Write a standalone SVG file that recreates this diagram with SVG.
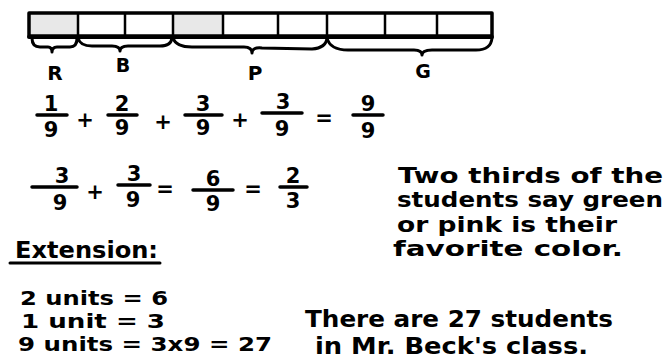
<svg xmlns="http://www.w3.org/2000/svg" width="664" height="362" viewBox="0 0 664 362">
<style>
.ink{fill:none;stroke:#000;stroke-linecap:round;stroke-linejoin:round}
.t{font-family:"DejaVu Sans","Liberation Sans",sans-serif;font-weight:bold;fill:#000}
.d{font-family:"DejaVu Sans","Liberation Sans",sans-serif;font-weight:bold;fill:#000;font-size:21px;text-anchor:middle}
.op{font-family:"DejaVu Sans","Liberation Sans",sans-serif;font-weight:bold;fill:#000;font-size:21px;text-anchor:middle}
.shade{fill:#e8e8e8;stroke:none}
</style>
<rect width="664" height="362" fill="#fff"/>
<g id="bar">
  <rect class="shade" x="30" y="14" width="48" height="21"/>
  <rect class="shade" x="173" y="14" width="50" height="21"/>
  <rect class="ink" x="29" y="13" width="463" height="23" stroke-width="3.5"/>
  <line class="ink" x1="29" y1="37" x2="492" y2="37" stroke-width="4"/>
  <g class="ink" stroke-width="2.5">
    <line x1="78" y1="14" x2="78" y2="36"/>
    <line x1="125" y1="14" x2="125" y2="36"/>
    <line x1="173" y1="14" x2="173" y2="36"/>
    <line x1="223" y1="14" x2="223" y2="36"/>
    <line x1="278" y1="14" x2="278" y2="36"/>
    <line x1="327" y1="14" x2="327" y2="36"/>
    <line x1="385" y1="14" x2="385" y2="36"/>
    <line x1="437" y1="14" x2="437" y2="36"/>
  </g>
</g>
<g id="braces" class="ink" stroke-width="3">
  <path d="M32,38 Q32,47 40,47 L48,47 Q52,47 52,52 Q52,47 57,47 L70,47 Q77,47 77,38"/>
  <path d="M78,38 Q80,46 92,46 L112,46 Q120,46 120,51 Q120,46 128,46 L160,46 Q171,46 172,38"/>
  <path d="M173,38 Q176,47 192,47 L244,47 Q252,47 252,53 Q252,47 262,48 L312,49 Q326,48 327,38"/>
  <path d="M327,38 Q330,50 348,50 L414,50 Q422,50 422,55 Q422,50 432,50 L476,50 Q491,50 492,38"/>
</g>
<g id="labels">
  <text class="t" x="55" y="80" font-size="20" text-anchor="middle">R</text>
  <text class="t" x="123" y="72" font-size="19" text-anchor="middle">B</text>
  <text class="t" x="255" y="80" font-size="20" text-anchor="middle">P</text>
  <text class="t" x="423" y="78" font-size="19" text-anchor="middle">G</text>
</g>
<g id="row1">
  <g class="ink" stroke-width="3.5">
    <line x1="37" y1="115" x2="67" y2="115"/>
    <line x1="108" y1="115" x2="137" y2="115"/>
    <line x1="185" y1="115" x2="222" y2="115"/>
    <line x1="262" y1="113" x2="302" y2="113"/>
    <line x1="353" y1="115" x2="383" y2="115"/>
  </g>
  <text class="d" x="51" y="111">1</text><text class="d" x="51" y="137">9</text>
  <text class="op" x="85" y="127">+</text>
  <text class="d" x="122" y="111">2</text><text class="d" x="122" y="135">9</text>
  <text class="op" x="163" y="129">+</text>
  <text class="d" x="203" y="111">3</text><text class="d" x="203" y="135">9</text>
  <text class="op" x="240" y="127">+</text>
  <text class="d" x="283" y="109">3</text><text class="d" x="282" y="136">9</text>
  <text class="op" x="324" y="125">=</text>
  <text class="d" x="368" y="111">9</text><text class="d" x="368" y="138">9</text>
</g>
<g id="row2">
  <g class="ink" stroke-width="3.5">
    <line x1="32" y1="187" x2="77" y2="187"/>
    <line x1="118" y1="185" x2="150" y2="185"/>
    <line x1="193" y1="190" x2="233" y2="190"/>
    <line x1="280" y1="187" x2="307" y2="187"/>
  </g>
  <text class="d" x="62" y="183">3</text><text class="d" x="60" y="210">9</text>
  <text class="op" x="95" y="199">+</text>
  <text class="d" x="134" y="181">3</text><text class="d" x="133" y="207">9</text>
  <text class="op" x="165" y="196">=</text>
  <text class="d" x="213" y="186">6</text><text class="d" x="213" y="211">9</text>
  <text class="op" x="253" y="196">=</text>
  <text class="d" x="293" y="183">2</text><text class="d" x="293" y="208">3</text>
</g>
<g id="conclusion" class="t" font-size="20.5">
  <text x="398" y="183" textLength="265" lengthAdjust="spacingAndGlyphs">Two thirds of the</text>
  <text x="397" y="207" textLength="266" lengthAdjust="spacingAndGlyphs">students say green</text>
  <text x="397" y="232" textLength="220" lengthAdjust="spacingAndGlyphs">or pink is their</text>
  <text x="393" y="256" textLength="230" lengthAdjust="spacingAndGlyphs">favorite color.</text>
</g>
<g id="extension" class="t">
  <text x="15" y="258" font-size="23" textLength="143" lengthAdjust="spacingAndGlyphs">Extension:</text>
  <line class="ink" x1="10" y1="263" x2="160" y2="263" stroke-width="3"/>
  <text x="20" y="305" font-size="19.5" textLength="148" lengthAdjust="spacingAndGlyphs">2 units = 6</text>
  <text x="21" y="328" font-size="19.5" textLength="144" lengthAdjust="spacingAndGlyphs">1 unit = 3</text>
  <text x="18" y="351" font-size="19.5" textLength="254" lengthAdjust="spacingAndGlyphs">9 units = 3x9 = 27</text>
</g>
<g id="answer" class="t" font-size="22.5">
  <text x="305" y="327" textLength="308" lengthAdjust="spacingAndGlyphs">There are 27 students</text>
  <text x="315" y="354" textLength="273" lengthAdjust="spacingAndGlyphs">in Mr. Beck's class.</text>
</g>
</svg>
